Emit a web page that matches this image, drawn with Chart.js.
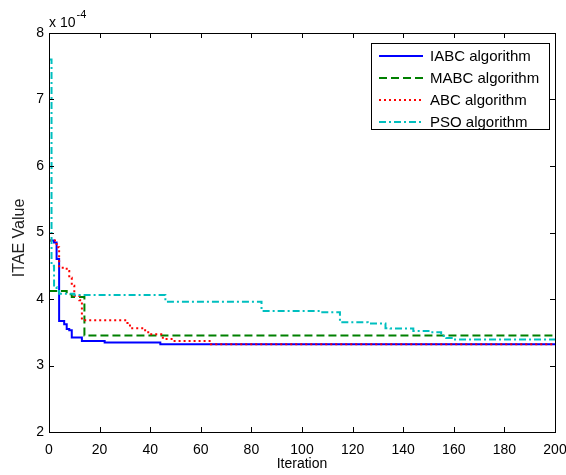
<!DOCTYPE html>
<html>
<head>
<meta charset="utf-8">
<script src="https://cdn.jsdelivr.net/npm/chart.js@4/dist/chart.umd.min.js"></script>
<style>
    body { margin: 0; background: #fff; }
    #wrap { width: 566px; height: 475px; }
</style>
</head>
<body>
<div id="wrap"><canvas id="itae" width="566" height="475"></canvas></div>
<script>
// values are in units of 1e-4 (the axis carries the "x 10^-4" factor)
const seriesNames = ['IABC algorithm', 'MABC algorithm', 'ABC algorithm', 'PSO algorithm'];

const iabcIter = [0, 2, 3, 4, 6, 7, 8, 9, 13, 22, 44, 200];
const iabcVal  = [4.88, 4.85, 4.6, 3.67, 3.62, 3.55, 3.53, 3.42, 3.37, 3.345, 3.32, 3.32];

const mabcIter = [0, 7, 9, 14, 200];
const mabcVal  = [4.12, 4.07, 4.03, 3.45, 3.45];

const abcIter = [0, 3, 4, 7, 8, 9, 10, 12, 13, 31, 32, 38, 40, 45, 49, 64, 200];
const abcVal  = [4.88, 4.78, 4.47, 4.42, 4.32, 4.2, 4.05, 3.98, 3.68, 3.64, 3.56, 3.50, 3.47, 3.40, 3.37, 3.32, 3.32];

const psoIter = [0, 1, 2, 3, 4, 10, 46, 84, 107, 115, 126, 133, 135, 144, 150, 155, 157, 160, 200];
const psoVal  = [7.6, 4.5, 4.18, 4.12, 4.08, 4.06, 3.96, 3.82, 3.80, 3.65, 3.63, 3.56, 3.555, 3.52, 3.50, 3.445, 3.415, 3.39, 3.39];

const xTicks = [0, 20, 40, 60, 80, 100, 120, 140, 160, 180, 200];
const yTicks = [2, 3, 4, 5, 6, 7, 8];

const FONT = '"Liberation Sans", Arial, sans-serif';

function pts(xs, ys) {
    return xs.map((x, i) => ({ x: x, y: ys[i] }));
}

// MATLAB-like box with inward ticks on all four sides, plus legend and labels
const boxPlugin = {
    id: 'box',
    afterDraw(chart) {
        const ctx = chart.ctx;
        const a = chart.chartArea;
        const xs = chart.scales.x, ys = chart.scales.y;
        ctx.save();
        ctx.strokeStyle = '#000';
        ctx.lineWidth = 1;
        ctx.strokeRect(Math.round(a.left) + 0.5, Math.round(a.top) + 0.5,
            Math.round(a.right - a.left), Math.round(a.bottom - a.top));
        ctx.beginPath();
        xTicks.forEach(v => {
            const px = Math.round(xs.getPixelForValue(v)) + 0.5;
            ctx.moveTo(px, a.bottom); ctx.lineTo(px, a.bottom - 5);
            ctx.moveTo(px, a.top); ctx.lineTo(px, a.top + 5);
        });
        yTicks.forEach(v => {
            const py = Math.round(ys.getPixelForValue(v)) + 0.5;
            ctx.moveTo(a.left, py); ctx.lineTo(a.left + 5, py);
            ctx.moveTo(a.right, py); ctx.lineTo(a.right - 5, py);
        });
        ctx.stroke();

        // exponent label
        ctx.fillStyle = '#000';
        ctx.textBaseline = 'alphabetic';
        ctx.font = '14px ' + FONT;
        ctx.fillText('x 10', a.left, a.top - 6);
        const w = ctx.measureText('x 10').width;
        ctx.font = '11px ' + FONT;
        ctx.fillText('-4', a.left + w + 1, a.top - 15);

        // y axis title
        ctx.save();
        ctx.translate(20, 238);
        ctx.rotate(-Math.PI / 2);
        ctx.font = '16px ' + FONT;
        ctx.fillStyle = '#222';
        ctx.textAlign = 'center';
        ctx.textBaseline = 'middle';
        ctx.fillText('ITAE Value', 0, 0);
        ctx.restore();

        // legend
        const lx = 371, ly = 43, lw = 178, lh = 86;
        ctx.fillStyle = '#fff';
        ctx.fillRect(lx, ly, lw, lh);
        ctx.strokeRect(lx + 0.5, ly + 0.5, lw, lh);
        ctx.font = '15px ' + FONT;
        ctx.textBaseline = 'middle';
        seriesNames.forEach((name, i) => {
            const ds = chart.data.datasets[i];
            const y = ly + 13 + i * 22;
            ctx.strokeStyle = ds.borderColor;
            ctx.lineWidth = ds.borderWidth;
            ctx.setLineDash(ds.borderDash || []);
            ctx.beginPath();
            ctx.moveTo(lx + 8, y); ctx.lineTo(lx + 52, y);
            ctx.stroke();
            ctx.setLineDash([]);
            ctx.fillStyle = '#000';
            ctx.fillText(name, lx + 59, y + 1);
        });
        ctx.restore();
    }
};

const commonLine = { fill: false, pointRadius: 0, borderWidth: 2, stepped: true, tension: 0 };

new Chart(document.getElementById('itae'), {
    type: 'line',
    data: {
        datasets: [
            Object.assign({ label: seriesNames[0], data: pts(iabcIter, iabcVal), borderColor: '#0000FF', order: 4 }, commonLine),
            Object.assign({ label: seriesNames[1], data: pts(mabcIter, mabcVal), borderColor: '#008000', borderDash: [8, 4], order: 3 }, commonLine),
            Object.assign({ label: seriesNames[2], data: pts(abcIter, abcVal), borderColor: '#FF0000', borderDash: [2, 3], order: 2 }, commonLine),
            Object.assign({ label: seriesNames[3], data: pts(psoIter, psoVal), borderColor: '#00BFBF', borderDash: [7, 3, 2, 3], order: 1 }, commonLine)
        ]
    },
    options: {
        responsive: false,
        animation: false,
        devicePixelRatio: 1,
        layout: { padding: { top: 33, right: 11, left: 0, bottom: 0 } },
        plugins: {
            legend: { display: false },
            tooltip: { enabled: false }
        },
        scales: {
            x: {
                type: 'linear',
                min: 0,
                max: 200,
                afterFit: s => { s.height = 43; s.paddingLeft = 0; s.paddingRight = 0; },
                afterBuildTicks: s => { s.ticks = xTicks.map(v => ({ value: v })); },
                grid: { display: false, drawTicks: false },
                border: { display: false },
                ticks: { color: '#000', padding: 10, maxRotation: 0, font: { family: FONT, size: 14 } },
                title: { display: true, text: 'Iteration', color: '#000', padding: { top: 0, bottom: 2 }, font: { family: FONT, size: 14 } }
            },
            y: {
                type: 'linear',
                min: 2,
                max: 8,
                afterFit: s => { s.width = 49; s.paddingTop = 0; s.paddingBottom = 0; },
                afterBuildTicks: s => { s.ticks = yTicks.map(v => ({ value: v })); },
                grid: { display: false, drawTicks: false },
                border: { display: false },
                ticks: { color: '#000', padding: 5, font: { family: FONT, size: 14 } }
            }
        }
    },
    plugins: [boxPlugin]
});
</script>
</body>
</html>
